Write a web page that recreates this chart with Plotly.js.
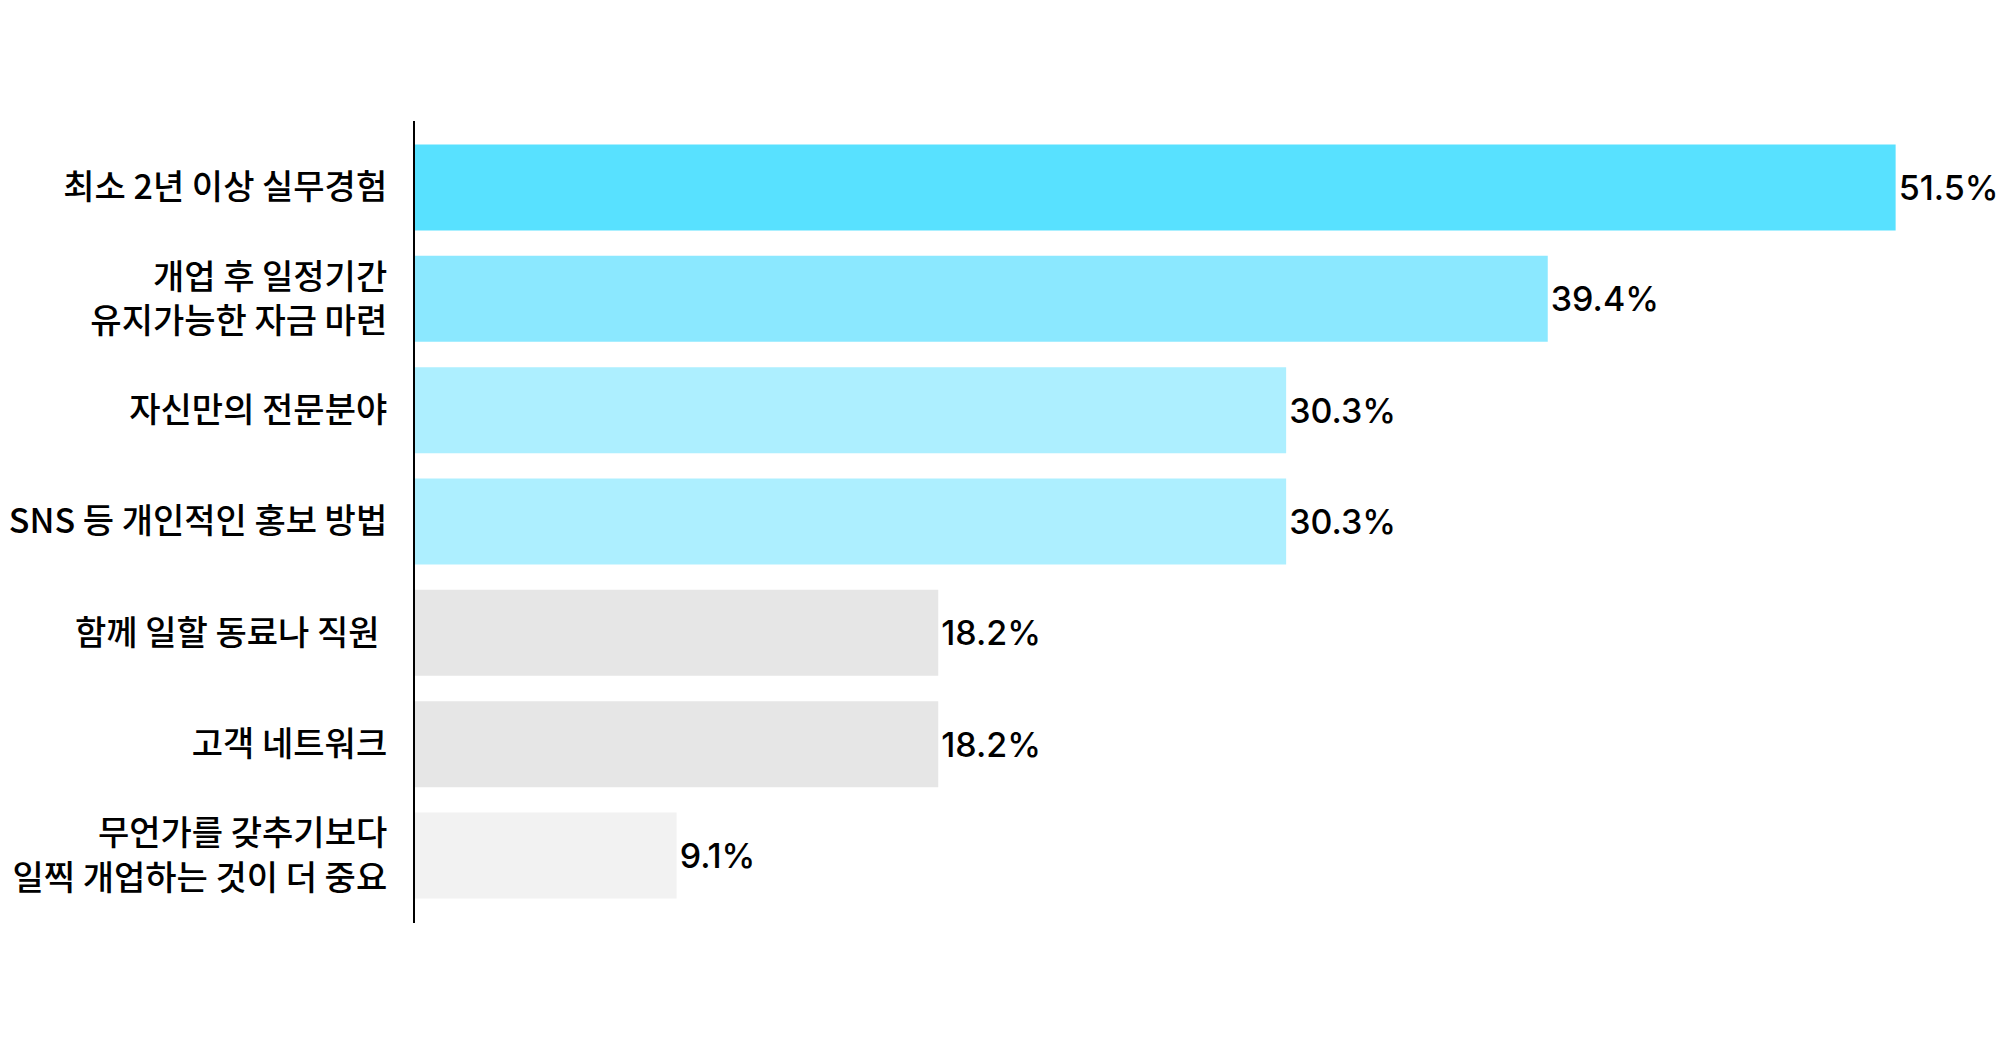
<!DOCTYPE html>
<html>
<head>
<meta charset="utf-8">
<script src="https://cdn.plot.ly/plotly-3.0.1.min.js"></script>
<style>
  html, body { margin: 0; padding: 0; background: #ffffff; }
  #chart { width: 2000px; height: 1062px; }
</style>
</head>
<body>
<div id="chart"></div>
<script>
const categories = [
  '최소 2년 이상 실무경험',
  '개업 후 일정기간<br>유지가능한 자금 마련',
  '자신만의 전문분야',
  'SNS 등 개인적인 홍보 방법',
  '함께 일할 동료나 직원\u00a0',
  '고객 네트워크',
  '무언가를 갖추기보다<br>일찍 개업하는 것이 더 중요'
];
const values = [51.5, 39.4, 30.3, 30.3, 18.2, 18.2, 9.1];
const valueLabels = ['51.5%', '39.4%', '30.3%', '30.3%', '18.2%', '18.2%', '9.1%'];
const barColors = ['#58E1FF', '#8BE8FF', '#ADEFFF', '#ADEFFF', '#E6E6E6', '#E6E6E6', '#F2F2F2'];

const FONT = "Inter, 'Noto Sans CJK KR', sans-serif";
const KFONT = "'Noto Sans CJK KR', Inter, sans-serif";

const trace = {
  type: 'bar',
  orientation: 'h',
  y: categories,
  x: values,
  text: valueLabels,
  textposition: 'outside',
  cliponaxis: false,
  textfont: { family: FONT, size: 34, color: '#000000', weight: 500 },
  marker: { color: barColors, line: { width: 0 } },
  hoverinfo: 'none'
};

const layout = {
  width: 2000,
  height: 1062,
  paper_bgcolor: '#ffffff',
  plot_bgcolor: '#ffffff',
  margin: { l: 415, r: 0, t: 121, b: 139 },
  showlegend: false,
  bargap: 0.2275,
  xaxis: {
    range: [0, 1585 / 28.75],
    visible: false,
    showgrid: false,
    zeroline: false,
    fixedrange: true
  },
  yaxis: {
    type: 'category',
    range: [6.606, -0.597],
    showline: true,
    linecolor: '#000000',
    linewidth: 2,
    showgrid: false,
    zeroline: false,
    ticks: '',
    ticklabelstandoff: 19,
    tickfont: { family: KFONT, size: 34, color: '#000000', weight: 500 },
    fixedrange: true
  }
};

Plotly.newPlot('chart', [trace], layout, { staticPlot: true, displayModeBar: false });
</script>
</body>
</html>
